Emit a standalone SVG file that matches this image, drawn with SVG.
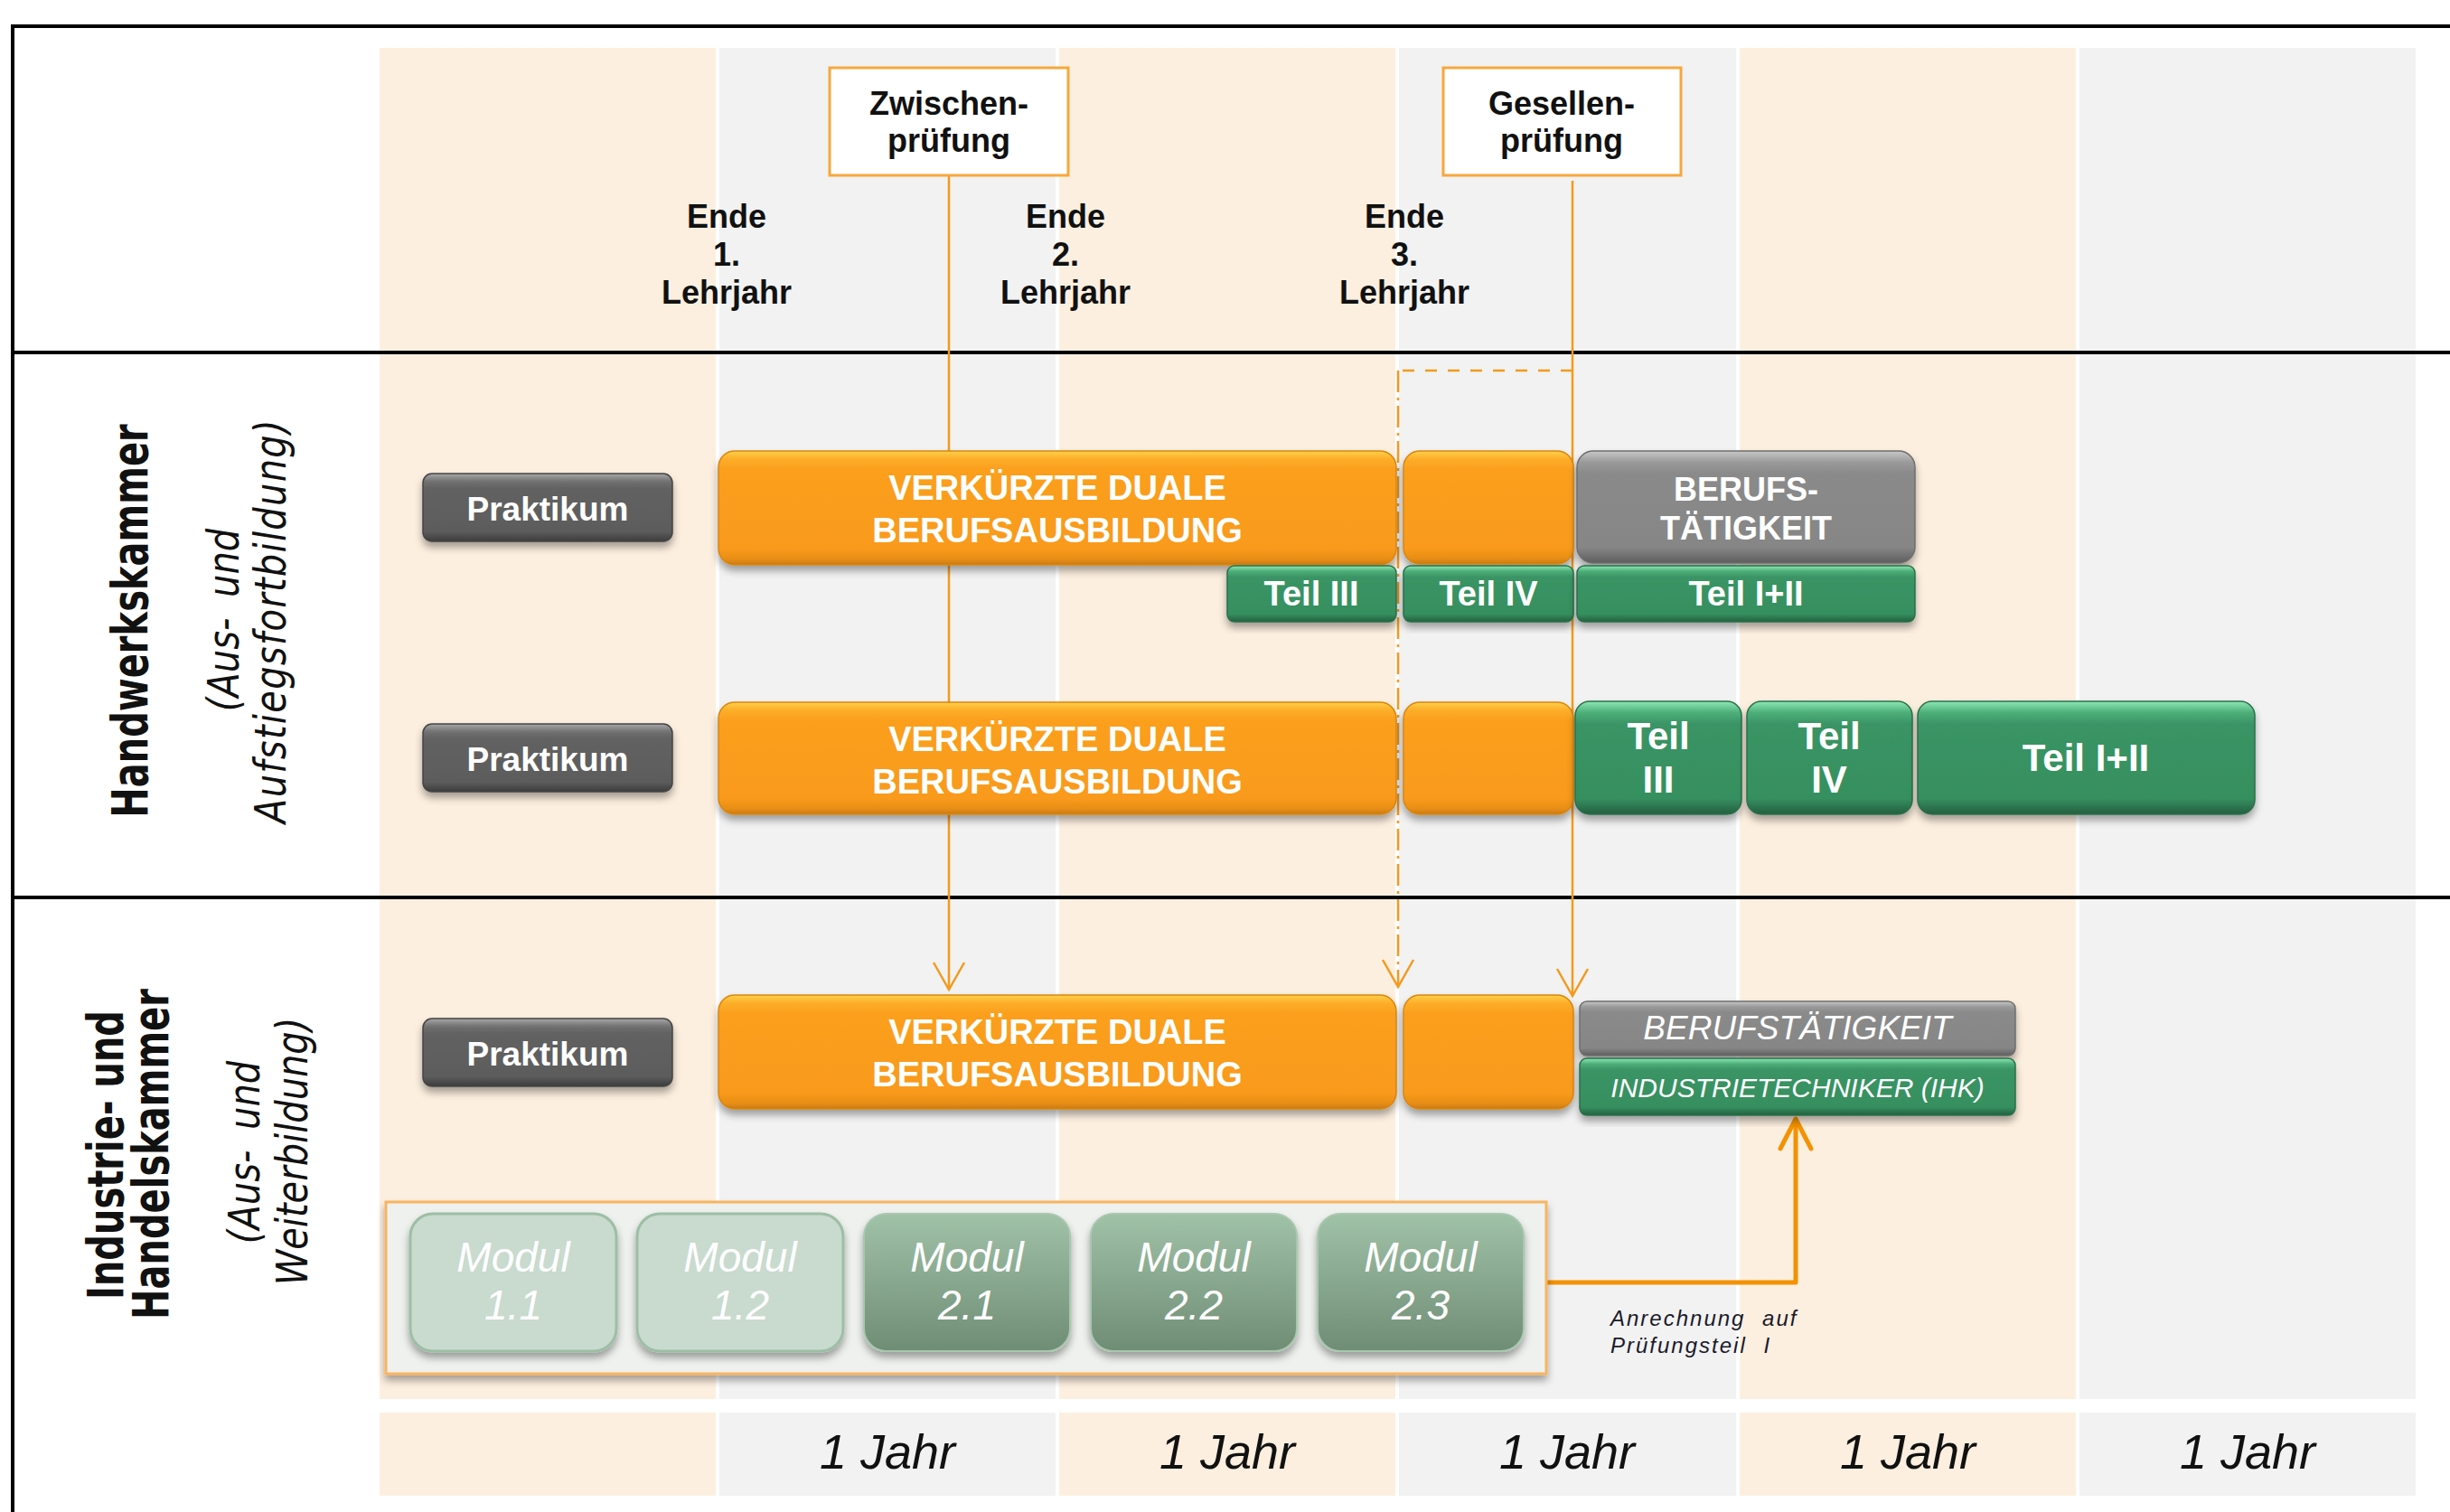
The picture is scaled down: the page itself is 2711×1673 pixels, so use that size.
<svg xmlns="http://www.w3.org/2000/svg" width="2711" height="1673" viewBox="0 0 2711 1673">
<style>
.bgA{fill:#FDEFDF}
.bgB{fill:#F2F2F2}
.frame{stroke:#000;stroke-width:4;fill:none}
.hdr{font-family:"Liberation Sans",Arial,sans-serif;font-weight:bold;font-size:36px;fill:#111;text-anchor:middle}
.rotB{font-family:"DejaVu Sans",Verdana,sans-serif;font-weight:bold;font-size:40px;fill:#111;text-anchor:middle}
.rotI{font-family:"DejaVu Sans",Verdana,sans-serif;font-style:italic;font-size:40px;fill:#111;text-anchor:middle}
.wb{font-family:"Liberation Sans",Arial,sans-serif;font-weight:bold;fill:#fff;text-anchor:middle}
.wi{font-family:"Liberation Sans",Arial,sans-serif;font-style:italic;fill:#fff;text-anchor:middle}
.jahr{font-family:"Liberation Sans",Arial,sans-serif;font-style:italic;font-size:54px;fill:#111;text-anchor:middle}
.note{font-family:"Liberation Sans",Arial,sans-serif;font-style:italic;font-size:24px;fill:#1a1a2a}
.exam{fill:#fff;stroke:#F8A73C;stroke-width:3}
.orange{fill:url(#gOrange);stroke:#D9860F;stroke-width:1.5;filter:url(#shadow)}
.green{fill:url(#gGreen);stroke:#2A7049;stroke-width:1.5;filter:url(#shadow)}
.greyL{fill:url(#gGreyL);stroke:#6E6E6E;stroke-width:1.5;filter:url(#shadow)}
.greyD{fill:url(#gGreyD);stroke:#444;stroke-width:1.5;filter:url(#shadow)}
.mod1{fill:#C9DACE;stroke:#9DBEA5;stroke-width:3;filter:url(#shadow)}
.mod2{fill:url(#gMod2);stroke:#A9C7AF;stroke-width:2;filter:url(#shadow)}
.cont{fill:#EEF1EE;stroke:#F8B461;stroke-width:3;filter:url(#shadow)}
.ln{stroke:#F39A1E;stroke-width:2.5;fill:none}
</style>
<defs>
<linearGradient id="gOrange" x1="0" y1="0" x2="0" y2="1">
<stop offset="0" stop-color="#FFD04A"/><stop offset="0.07" stop-color="#FDAE2A"/><stop offset="0.16" stop-color="#FB9F1E"/><stop offset="0.86" stop-color="#F99A1B"/><stop offset="0.95" stop-color="#E88E16"/><stop offset="1" stop-color="#C97A10"/>
</linearGradient>
<linearGradient id="gGreen" x1="0" y1="0" x2="0" y2="1">
<stop offset="0" stop-color="#8DE8B5"/><stop offset="0.1" stop-color="#4DAE79"/><stop offset="0.2" stop-color="#3A9465"/><stop offset="0.86" stop-color="#368F5F"/><stop offset="1" stop-color="#245F40"/>
</linearGradient>
<linearGradient id="gGreyL" x1="0" y1="0" x2="0" y2="1">
<stop offset="0" stop-color="#C8C8C8"/><stop offset="0.1" stop-color="#9A9A9A"/><stop offset="0.2" stop-color="#8A8A8A"/><stop offset="0.86" stop-color="#868686"/><stop offset="1" stop-color="#5E5E5E"/>
</linearGradient>
<linearGradient id="gGreyD" x1="0" y1="0" x2="0" y2="1">
<stop offset="0" stop-color="#A8A8A8"/><stop offset="0.12" stop-color="#707070"/><stop offset="0.22" stop-color="#626262"/><stop offset="0.86" stop-color="#5C5C5C"/><stop offset="1" stop-color="#3C3C3C"/>
</linearGradient>
<linearGradient id="gMod2" x1="0" y1="0" x2="0" y2="1">
<stop offset="0" stop-color="#A0C2A7"/><stop offset="1" stop-color="#6F8D75"/>
</linearGradient>
<filter id="shadow" x="-5%" y="-10%" width="110%" height="130%">
<feDropShadow dx="0" dy="6" stdDeviation="4" flood-color="#000" flood-opacity="0.35"/>
</filter>
<marker id="arrOpen" markerUnits="userSpaceOnUse" viewBox="-34 -20 38 40" markerWidth="38" markerHeight="40" refX="0" refY="0" orient="auto">
<path d="M-30,-17 L0,0 L-30,17" fill="none" stroke="#F39A1E" stroke-width="2.5"/>
</marker>
<marker id="arrThick" markerUnits="userSpaceOnUse" viewBox="-38 -22 44 44" markerWidth="44" markerHeight="44" refX="0" refY="0" orient="auto">
<path d="M-33,-17 L0,0 L-33,17" fill="none" stroke="#F39200" stroke-width="5" stroke-linecap="round" stroke-linejoin="round"/>
</marker>
</defs>

<g id="background">
<rect class="bgA" x="420" y="53" width="372" height="1495"/>
<rect class="bgB" x="796" y="53" width="372" height="1495"/>
<rect class="bgA" x="1172" y="53" width="372" height="1495"/>
<rect class="bgB" x="1548" y="53" width="373" height="1495"/>
<rect class="bgA" x="1925" y="53" width="372" height="1495"/>
<rect class="bgB" x="2301" y="53" width="372" height="1495"/>
<rect class="bgA" x="420" y="1563" width="372" height="92"/>
<rect class="bgB" x="796" y="1563" width="372" height="92"/>
<rect class="bgA" x="1172" y="1563" width="372" height="92"/>
<rect class="bgB" x="1548" y="1563" width="373" height="92"/>
<rect class="bgA" x="1925" y="1563" width="372" height="92"/>
<rect class="bgB" x="2301" y="1563" width="372" height="92"/>
</g>

<g id="frame">
<path class="frame" d="M14,1673 V29 H2711"/>
<path class="frame" d="M14,390 H2711"/>
<path class="frame" d="M14,993 H2711"/>
</g>

<g id="row-labels">
<text class="rotB" transform="translate(163,687) rotate(-90) scale(1,1.38)">Handwerkskammer</text>
<text class="rotI" word-spacing="10" transform="translate(264,686) rotate(-90) scale(1,1.2)">(Aus- und</text>
<text class="rotI" letter-spacing="1.3" transform="translate(316,687) rotate(-90) scale(1,1.2)">Aufstiegsfortbildung)</text>
<text class="rotB" transform="translate(136,1278) rotate(-90) scale(1,1.38)">Industrie- und</text>
<text class="rotB" transform="translate(186,1277) rotate(-90) scale(1,1.38)">Handelskammer</text>
<text class="rotI" word-spacing="10" transform="translate(287,1275) rotate(-90) scale(1,1.2)">(Aus- und</text>
<text class="rotI" transform="translate(340,1274) rotate(-90) scale(1,1.2)">Weiterbildung)</text>
</g>

<g id="year-ends">
<text class="hdr"><tspan x="804" y="252">Ende</tspan><tspan x="804" y="294">1.</tspan><tspan x="804" y="336">Lehrjahr</tspan></text>
<text class="hdr"><tspan x="1179" y="252">Ende</tspan><tspan x="1179" y="294">2.</tspan><tspan x="1179" y="336">Lehrjahr</tspan></text>
<text class="hdr"><tspan x="1554" y="252">Ende</tspan><tspan x="1554" y="294">3.</tspan><tspan x="1554" y="336">Lehrjahr</tspan></text>
</g>

<g id="connectors">
<path class="ln" d="M1050,194 V1095" marker-end="url(#arrOpen)"/>
<path class="ln" d="M1740,200 V1102" marker-end="url(#arrOpen)"/>
<path class="ln" d="M1740,410 H1547" stroke-dasharray="13 12" stroke-width="3"/>
<path class="ln" d="M1547,410 V1092" stroke-dasharray="24 6 3 6" stroke-width="3" marker-end="url(#arrOpen)"/>
<path d="M1711,1419 H1987 V1238" fill="none" stroke="#F39200" stroke-width="5" stroke-linejoin="round" marker-end="url(#arrThick)"/>
</g>

<g id="zwischenpruefung">
<rect class="exam" x="918" y="75" width="264" height="119"/>
<text class="hdr"><tspan x="1050" y="127">Zwischen-</tspan><tspan x="1050" y="168">prüfung</tspan></text>
</g>
<g id="gesellenpruefung">
<rect class="exam" x="1597" y="75" width="263" height="119"/>
<text class="hdr"><tspan x="1728" y="127">Gesellen-</tspan><tspan x="1728" y="168">prüfung</tspan></text>
</g>

<g id="hwk1-praktikum">
<rect class="greyD" x="468" y="524" width="276" height="75" rx="10"/>
<text class="wb" x="606" y="576" font-size="37">Praktikum</text>
</g>
<g id="hwk1-ausbildung">
<rect class="orange" x="795" y="499" width="750" height="126" rx="18"/>
<text class="wb" font-size="38"><tspan x="1170" y="553">VERKÜRZTE DUALE</tspan><tspan x="1170" y="600">BERUFSAUSBILDUNG</tspan></text>
</g>
<g id="hwk1-ausbildung-rest">
<rect class="orange" x="1553" y="499" width="188" height="125" rx="18"/>
</g>
<g id="hwk1-berufstaetigkeit">
<rect class="greyL" x="1745" y="499" width="374" height="124" rx="18"/>
<text class="wb" font-size="36"><tspan x="1932" y="554">BERUFS-</tspan><tspan x="1932" y="597">TÄTIGKEIT</tspan></text>
</g>
<g id="hwk1-teil3">
<rect class="green" x="1358" y="626" width="187" height="62" rx="8"/>
<text class="wb" x="1451" y="670" font-size="38">Teil III</text>
</g>
<g id="hwk1-teil4">
<rect class="green" x="1553" y="626" width="188" height="62" rx="8"/>
<text class="wb" x="1647" y="670" font-size="38">Teil IV</text>
</g>
<g id="hwk1-teil12">
<rect class="green" x="1745" y="626" width="374" height="62" rx="8"/>
<text class="wb" x="1932" y="670" font-size="38">Teil I+II</text>
</g>

<g id="hwk2-praktikum">
<rect class="greyD" x="468" y="801" width="276" height="75" rx="10"/>
<text class="wb" x="606" y="853" font-size="37">Praktikum</text>
</g>
<g id="hwk2-ausbildung">
<rect class="orange" x="795" y="777" width="750" height="124" rx="18"/>
<text class="wb" font-size="38"><tspan x="1170" y="831">VERKÜRZTE DUALE</tspan><tspan x="1170" y="878">BERUFSAUSBILDUNG</tspan></text>
</g>
<g id="hwk2-ausbildung-rest">
<rect class="orange" x="1553" y="777" width="188" height="124" rx="18"/>
</g>
<g id="hwk2-teil3">
<rect class="green" x="1743" y="776" width="184" height="125" rx="16"/>
<text class="wb" font-size="42"><tspan x="1835" y="829">Teil</tspan><tspan x="1835" y="877">III</tspan></text>
</g>
<g id="hwk2-teil4">
<rect class="green" x="1933" y="776" width="183" height="125" rx="16"/>
<text class="wb" font-size="42"><tspan x="2024" y="829">Teil</tspan><tspan x="2024" y="877">IV</tspan></text>
</g>
<g id="hwk2-teil12">
<rect class="green" x="2122" y="776" width="373" height="125" rx="16"/>
<text class="wb" x="2308" y="853" font-size="42">Teil I+II</text>
</g>

<g id="ihk-praktikum">
<rect class="greyD" x="468" y="1127" width="276" height="75" rx="10"/>
<text class="wb" x="606" y="1179" font-size="37">Praktikum</text>
</g>
<g id="ihk-ausbildung">
<rect class="orange" x="795" y="1101" width="750" height="126" rx="18"/>
<text class="wb" font-size="38"><tspan x="1170" y="1155">VERKÜRZTE DUALE</tspan><tspan x="1170" y="1202">BERUFSAUSBILDUNG</tspan></text>
</g>
<g id="ihk-ausbildung-rest">
<rect class="orange" x="1553" y="1101" width="188" height="126" rx="18"/>
</g>
<g id="ihk-berufstaetigkeit">
<rect class="greyL" x="1748" y="1108" width="482" height="60" rx="8"/>
<text class="wi" x="1989" y="1150" font-size="37">BERUFSTÄTIGKEIT</text>
</g>
<g id="ihk-industrietechniker">
<rect class="green" x="1748" y="1171" width="482" height="63" rx="8"/>
<text class="wi" x="1989" y="1214" font-size="30">INDUSTRIETECHNIKER (IHK)</text>
</g>

<g id="module-container">
<rect class="cont" x="427" y="1330" width="1284" height="190"/>
</g>
<g id="modul-1-1">
<rect class="mod1" x="454" y="1343" width="228" height="152" rx="25"/>
<text class="wi" font-size="46"><tspan x="568" y="1407">Modul</tspan><tspan x="568" y="1460">1.1</tspan></text>
</g>
<g id="modul-1-2">
<rect class="mod1" x="705" y="1343" width="228" height="152" rx="25"/>
<text class="wi" font-size="46"><tspan x="819" y="1407">Modul</tspan><tspan x="819" y="1460">1.2</tspan></text>
</g>
<g id="modul-2-1">
<rect class="mod2" x="956" y="1343" width="228" height="152" rx="25"/>
<text class="wi" font-size="46"><tspan x="1070" y="1407">Modul</tspan><tspan x="1070" y="1460">2.1</tspan></text>
</g>
<g id="modul-2-2">
<rect class="mod2" x="1207" y="1343" width="228" height="152" rx="25"/>
<text class="wi" font-size="46"><tspan x="1321" y="1407">Modul</tspan><tspan x="1321" y="1460">2.2</tspan></text>
</g>
<g id="modul-2-3">
<rect class="mod2" x="1458" y="1343" width="228" height="152" rx="25"/>
<text class="wi" font-size="46"><tspan x="1572" y="1407">Modul</tspan><tspan x="1572" y="1460">2.3</tspan></text>
</g>

<g id="anrechnung-label">
<text class="note" letter-spacing="2" word-spacing="10"><tspan x="1782" y="1467">Anrechnung auf</tspan><tspan x="1782" y="1497">Prüfungsteil I</tspan></text>
</g>

<g id="years">
<text class="jahr" x="982" y="1625">1 Jahr</text>
<text class="jahr" x="1358" y="1625">1 Jahr</text>
<text class="jahr" x="1734" y="1625">1 Jahr</text>
<text class="jahr" x="2111" y="1625">1 Jahr</text>
<text class="jahr" x="2487" y="1625">1 Jahr</text>
</g>
</svg>
